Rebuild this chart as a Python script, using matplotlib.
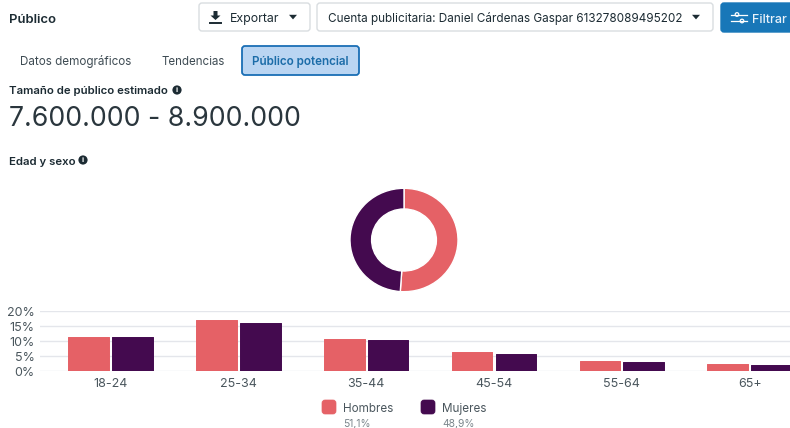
import matplotlib.pyplot as plt
from matplotlib.patches import Circle, FancyBboxPatch, Polygon

plt.rcParams['font.family'] = ['Inter', 'DejaVu Sans']

W, H = 790, 428
HOMBRES = '#e56166'
MUJERES = '#440a4f'
TEXT = '#1c2b33'
GREY = '#5d6b73'

age_groups = ['18-24', '25-34', '35-44', '45-54', '55-64', '65+']
hombres = [11.4, 17.1, 10.7, 6.3, 3.3, 2.3]
mujeres = [11.3, 16.2, 10.4, 5.9, 3.0, 2.0]
y_ticks = [0, 5, 10, 15, 20]
y_labels = ['0%', '5%', '10%', '15%', '20%']
shares = [51.1, 48.9]
share_labels = ['51,1%', '48,9%']


def px_axes(left, top, right, bottom):
    return fig.add_axes([left / W, 1 - bottom / H, (right - left) / W, (bottom - top) / H])


fig = plt.figure(figsize=(7.9, 4.28), dpi=100, facecolor='white')

# page chrome, drawn in pixel coords
ui = fig.add_axes([0, 0, 1, 1])
ui.set(xlim=(0, W), ylim=(H, 0))
ui.axis('off')


def box(x0, y0, x1, y1, face='white', edge='#d9dde0', lw=1.0):
    ui.add_patch(FancyBboxPatch((x0, y0), x1 - x0, y1 - y0, boxstyle='round,pad=0,rounding_size=3',
                                fc=face, ec=edge, lw=lw))


def label(x, y, s, size=8.2, color=TEXT, weight='normal', ha='left'):
    # baseline placement so y is the middle of the capitals
    ui.text(x, y + size * 0.5, s, fontsize=size, color=color, fontweight=weight, ha=ha, va='baseline')


def info(x, y):
    ui.add_patch(Circle((x, y), 4.6, fc=TEXT, ec='none'))
    ui.text(x, y + 0.2, 'i', fontsize=5.5, color='white', fontweight='bold', ha='center', va='center')


def caret(x, y):
    ui.add_patch(Polygon([(x - 4, y - 2.2), (x + 4, y - 2.2), (x, y + 2.4)], fc=TEXT, ec='none'))


label(9, 18, 'Público', size=9.4, weight='semibold')

box(199, 3, 310, 31)
ui.add_patch(Polygon([(213.5, 11), (217.5, 11), (217.5, 15.5), (220.5, 15.5), (215.5, 20), (210.5, 15.5), (213.5, 15.5)],
                     fc=TEXT, ec='none'))
ui.plot([210, 221], [22.5, 22.5], color=TEXT, lw=1.4)
label(230, 18, 'Exportar', size=8.9)
caret(293, 17)

box(317, 3, 713, 31)
label(328, 18, 'Cuenta publicitaria: Daniel Cárdenas Gaspar 613278089495202', size=8.45)
caret(696, 17)

box(721, 3, 800, 32, face='#1877b8', edge='#1877b8')
for yy, cx in [(14.5, 737), (21, 742)]:
    ui.plot([731, 747], [yy, yy], color='white', lw=0.9)
    ui.add_patch(Circle((cx, yy), 1.8, fc='#1877b8', ec='white', lw=0.9))
label(752, 18, 'Filtrar', size=9, color='#e8f2fa', weight='medium')

label(20, 61, 'Datos demográficos', size=8.4, color='#3f4c54')
label(162, 61, 'Tendencias', size=8.3, color='#3f4c54')
box(242, 46, 359, 75, face='#bad5f2', edge='#1a6eb5', lw=1.3)
label(252, 61, 'Público potencial', size=8.4, color='#1b6ca8', weight='semibold')

label(9, 90, 'Tamaño de público estimado', size=8.2, weight='semibold')
info(177, 90)
label(9, 116, '7.600.000 - 8.900.000', size=19.2, color='#2a363d')
label(9, 161, 'Edad y sexo', size=8.2, weight='semibold')
info(83, 160)

# donut
pie_ax = px_axes(350, 188.3, 458, 291.7)
pie_ax.pie(shares, colors=[HOMBRES, MUJERES], startangle=90, counterclock=False, radius=1,
           wedgeprops=dict(width=0.4, edgecolor='white', linewidth=1.0))
pie_ax.set_aspect('auto')
pie_ax.set(xlim=(-1, 1), ylim=(-1, 1))

# bars
ax = px_axes(40, 311.3, 790, 371.3)
ax.patch.set_alpha(0)
step = 127.8
x_pos = list(range(len(age_groups)))
bar_w = 40.7 / step
off = 21.85 / step
ax.bar([i - off for i in x_pos], hombres, bar_w, color=HOMBRES, edgecolor=HOMBRES, linewidth=0.7,
       joinstyle='round', zorder=3)
ax.bar([i + off for i in x_pos], mujeres, bar_w, color=MUJERES, edgecolor=MUJERES, linewidth=0.7,
       joinstyle='round', zorder=3)
ax.set_xlim((40 - 110.6) / step, (790 - 110.6) / step)
ax.set_ylim(0, 20)
ax.set_xticks(x_pos, age_groups)
ax.set_yticks(y_ticks, y_labels)
ax.tick_params(length=0, labelcolor='#4a565d', labelsize=9)
ax.tick_params(axis='x', pad=5, labelsize=9)
ax.tick_params(axis='y', pad=4)
ax.grid(axis='y', color='#e4e6eb', lw=1)
ax.set_axisbelow(True)
for name in ['top', 'left', 'right', 'bottom']:
    ax.spines[name].set_visible(False)

# legend
for x0, col, name, share in [(322, HOMBRES, 'Hombres', share_labels[0]), (421, MUJERES, 'Mujeres', share_labels[1])]:
    box(x0, 400, x0 + 14, 414, face=col, edge=col, lw=0.5)
    label(x0 + 21, 408, name, size=8.4, color='#4a565d')
    label(x0 + 21, 423, share, size=7.4, color='#7b868c')

fig.savefig('out.png', dpi=100)
